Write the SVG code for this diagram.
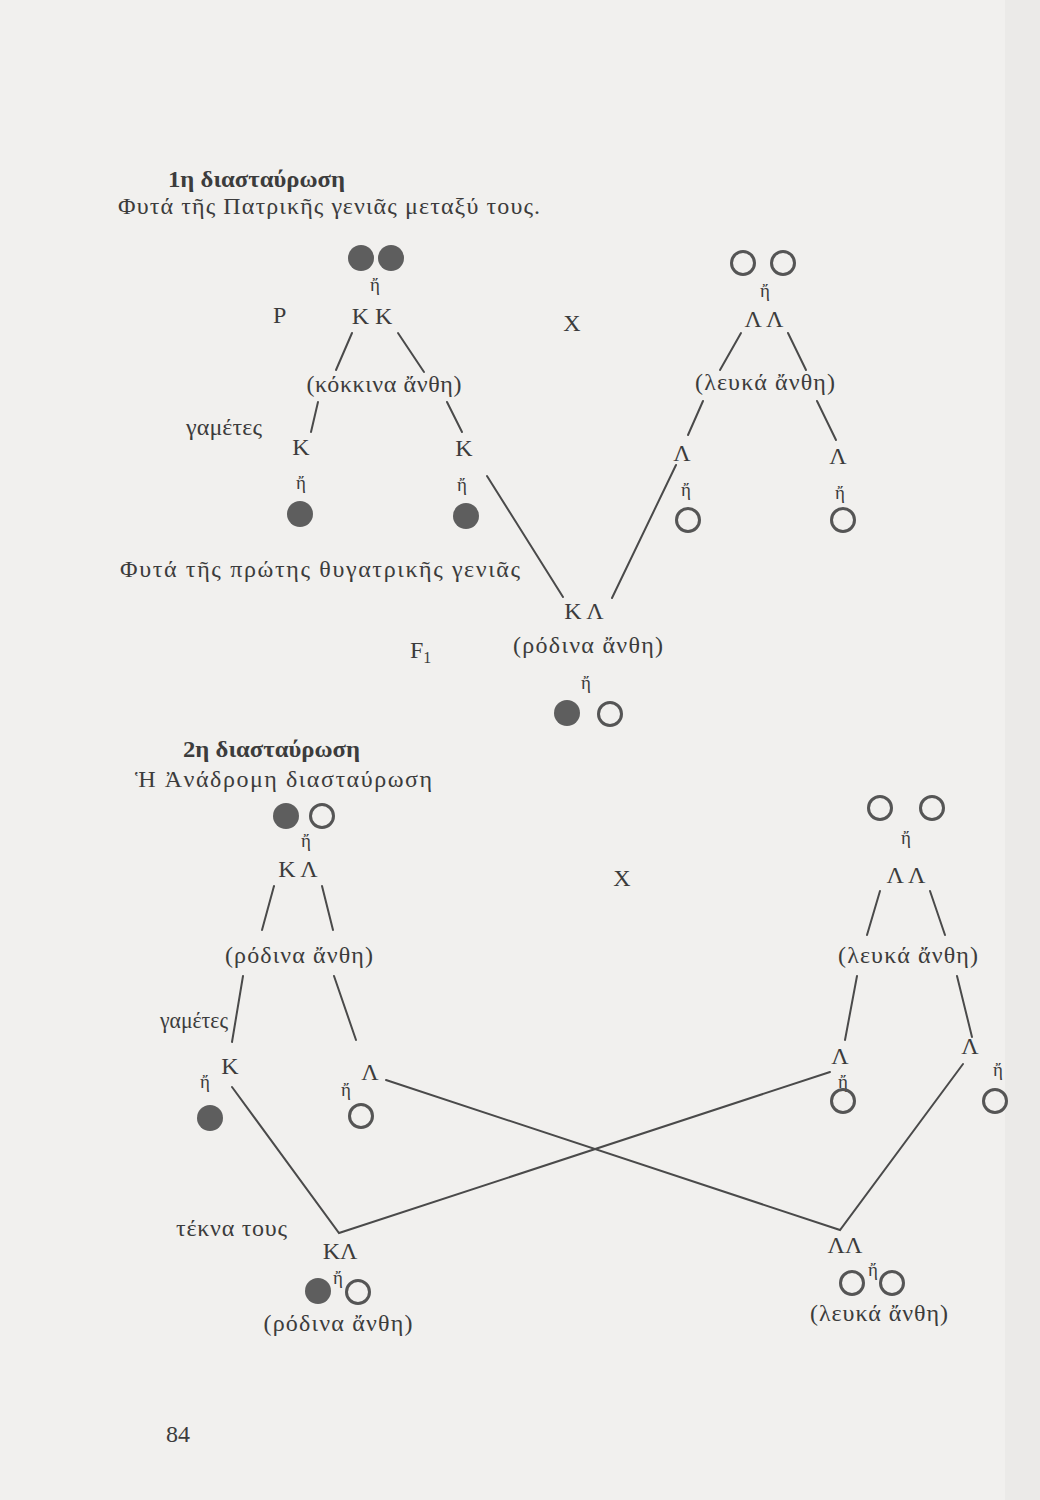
<svg xmlns="http://www.w3.org/2000/svg" width="1040" height="1500" viewBox="0 0 1040 1500">
<style>
text{font-family:"Liberation Serif","DejaVu Serif",serif;fill:#3c3c3c;font-size:24px}
.b{font-weight:bold;font-size:24px}
.c{text-anchor:middle}
.h{font-size:19px;text-anchor:middle}
.f{fill:#5e5e5e}
.o{fill:none;stroke:#555;stroke-width:3}
.ln{stroke:#4a4a4a;stroke-width:2;fill:none;stroke-linecap:round}
</style>
<rect width="1040" height="1500" fill="#f1f0ee"/>
<rect x="1005" y="0" width="35" height="1500" fill="#ebeae8"/>

<g id="title1"><text class="b" x="168" y="187" textLength="177" lengthAdjust="spacingAndGlyphs">1η διασταύρωση</text></g>
<g id="subtitle1"><text x="118" y="214" textLength="422" lengthAdjust="spacing">Φυτά τῆς Πατρικῆς γενιᾶς μεταξύ τους.</text></g>

<g id="parent-red">
<circle class="f" cx="361" cy="258" r="13"/><circle class="f" cx="391" cy="258" r="13"/>
<text class="h" x="375" y="291">ἤ</text>
<text x="273" y="323">P</text>
<text class="c" x="372" y="324">Κ Κ</text>
<text class="c" x="384" y="392" textLength="155" lengthAdjust="spacing">(κόκκινα ἄνθη)</text>
</g>
<g id="cross1"><text class="c" x="572" y="331">Χ</text></g>
<g id="parent-white">
<circle class="o" cx="743" cy="263" r="11.5"/><circle class="o" cx="783" cy="263" r="11.5"/>
<text class="h" x="765" y="297">ἤ</text>
<text class="c" x="764" y="327">Λ  Λ</text>
<text class="c" x="765" y="390" textLength="140" lengthAdjust="spacing">(λευκά ἄνθη)</text>
</g>
<g id="gametes1-label"><text x="186" y="435" textLength="76" lengthAdjust="spacing">γαμέτες</text></g>
<g id="gamete-K1"><text class="c" x="301" y="455">Κ</text><text class="h" x="301" y="489">ἤ</text><circle class="f" cx="300" cy="514" r="13"/></g>
<g id="gamete-K2"><text class="c" x="464" y="456">Κ</text><text class="h" x="462" y="491">ἤ</text><circle class="f" cx="466" cy="516" r="13"/></g>
<g id="gamete-L1"><text class="c" x="682" y="461">Λ</text><text class="h" x="686" y="496">ἤ</text><circle class="o" cx="688" cy="520" r="11.5"/></g>
<g id="gamete-L2"><text class="c" x="838" y="464">Λ</text><text class="h" x="840" y="499">ἤ</text><circle class="o" cx="843" cy="520" r="11.5"/></g>
<g id="f1-label"><text x="120" y="577" textLength="400" lengthAdjust="spacing">Φυτά τῆς πρώτης θυγατρικῆς γενιᾶς</text><text x="410" y="658">F<tspan font-size="16" dy="5">1</tspan></text></g>
<g id="f1">
<text class="c" x="584" y="619">Κ  Λ</text>
<text class="c" x="588" y="653" textLength="150" lengthAdjust="spacing">(ρόδινα ἄνθη)</text>
<text class="h" x="586" y="689">ἤ</text>
<circle class="f" cx="567" cy="713" r="13"/><circle class="o" cx="610" cy="714" r="11.5"/>
</g>

<g id="title2"><text class="b" x="183" y="757" textLength="177" lengthAdjust="spacingAndGlyphs">2η διασταύρωση</text></g>
<g id="subtitle2"><text x="135" y="787" textLength="297" lengthAdjust="spacing">Ἡ Ἀνάδρομη διασταύρωση</text></g>
<g id="bc-pink">
<circle class="f" cx="286" cy="816" r="13"/><circle class="o" cx="322" cy="816" r="11.5"/>
<text class="h" x="306" y="847">ἤ</text>
<text class="c" x="298" y="877">Κ  Λ</text>
<text class="c" x="299" y="963" textLength="148" lengthAdjust="spacing">(ρόδινα ἄνθη)</text>
</g>
<g id="cross2"><text class="c" x="622" y="886">Χ</text></g>
<g id="bc-white">
<circle class="o" cx="880" cy="808" r="11.5"/><circle class="o" cx="932" cy="808" r="11.5"/>
<text class="h" x="906" y="844">ἤ</text>
<text class="c" x="906" y="883">Λ  Λ</text>
<text class="c" x="908" y="963" textLength="140" lengthAdjust="spacing">(λευκά ἄνθη)</text>
</g>
<g id="gametes2-label"><text x="160" y="1028" textLength="68" lengthAdjust="spacingAndGlyphs">γαμέτες</text></g>
<g id="g2-K"><text class="c" x="230" y="1074">Κ</text><text class="h" x="205" y="1088">ἤ</text><circle class="f" cx="210" cy="1118" r="13"/></g>
<g id="g2-L"><text class="c" x="370" y="1080">Λ</text><text class="h" x="346" y="1096">ἤ</text><circle class="o" cx="361" cy="1116" r="11.5"/></g>
<g id="g2-L3"><text class="c" x="840" y="1064">Λ</text><text class="h" x="843" y="1088">ἤ</text><circle class="o" cx="843" cy="1101" r="11.5"/></g>
<g id="g2-L4"><text class="c" x="970" y="1054">Λ</text><text class="h" x="998" y="1076">ἤ</text><circle class="o" cx="995" cy="1101" r="11.5"/></g>
<g id="children-label"><text x="176" y="1236" textLength="111" lengthAdjust="spacing">τέκνα τους</text></g>
<g id="child-KL">
<text class="c" x="340" y="1259">ΚΛ</text>
<text class="h" x="338" y="1284">ἤ</text>
<circle class="f" cx="318" cy="1291" r="13"/><circle class="o" cx="358" cy="1292" r="11.5"/>
<text class="c" x="338" y="1331" textLength="149" lengthAdjust="spacing">(ρόδινα ἄνθη)</text>
</g>
<g id="child-LL">
<text class="c" x="845" y="1253">ΛΛ</text>
<text class="h" x="873" y="1276">ἤ</text>
<circle class="o" cx="852" cy="1283" r="11.5"/><circle class="o" cx="892" cy="1283" r="11.5"/>
<text class="c" x="879" y="1321" textLength="138" lengthAdjust="spacing">(λευκά ἄνθη)</text>
</g>
<g id="page"><text x="166" y="1442">84</text></g>

<g id="connectors">
<line class="ln" x1="352" y1="333" x2="336" y2="370"/>
<line class="ln" x1="398" y1="333" x2="424" y2="372"/>
<line class="ln" x1="318" y1="402" x2="311" y2="432"/>
<line class="ln" x1="447" y1="402" x2="462" y2="432"/>
<line class="ln" x1="741" y1="333" x2="720" y2="370"/>
<line class="ln" x1="788" y1="333" x2="806" y2="370"/>
<line class="ln" x1="703" y1="401" x2="688" y2="435"/>
<line class="ln" x1="817" y1="401" x2="836" y2="440"/>
<line class="ln" x1="487" y1="476" x2="563" y2="597"/>
<line class="ln" x1="676" y1="465" x2="612" y2="598"/>
<line class="ln" x1="274" y1="886" x2="262" y2="930"/>
<line class="ln" x1="322" y1="886" x2="333" y2="930"/>
<line class="ln" x1="243" y1="976" x2="232" y2="1042"/>
<line class="ln" x1="334" y1="976" x2="356" y2="1040"/>
<line class="ln" x1="880" y1="891" x2="867" y2="935"/>
<line class="ln" x1="930" y1="891" x2="945" y2="935"/>
<line class="ln" x1="857" y1="976" x2="845" y2="1040"/>
<line class="ln" x1="957" y1="976" x2="972" y2="1037"/>
<polyline class="ln" points="232,1087 339,1233 830,1072"/>
<polyline class="ln" points="386,1080 840,1230 963,1064"/>
</g>
</svg>
